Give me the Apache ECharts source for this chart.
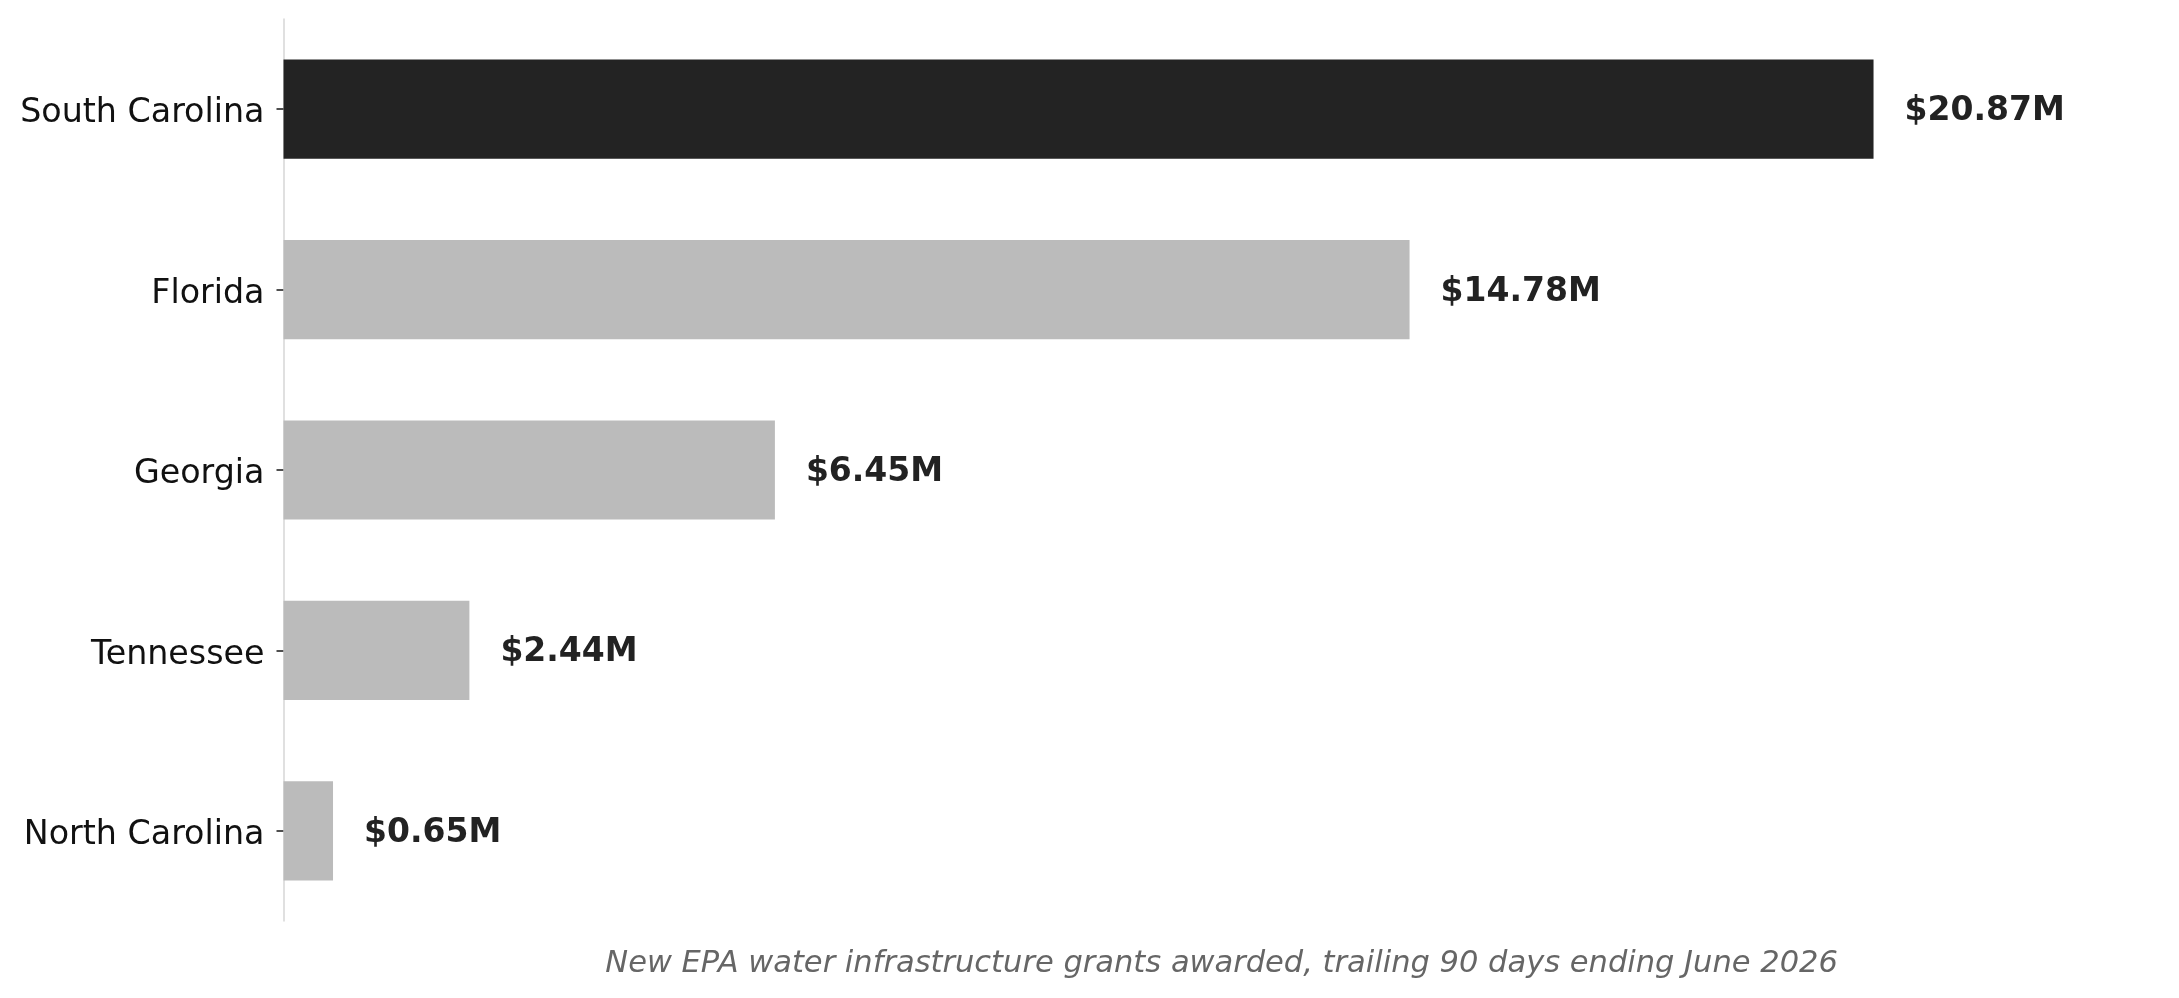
<!DOCTYPE html>
<html>
<head>
<meta charset="utf-8">
<script src="https://cdn.jsdelivr.net/npm/echarts@6/dist/echarts.min.js"></script>
<style>
  html, body { margin: 0; padding: 0; background: #fff; }
  #chart { width: 2179px; height: 998px; }
</style>
</head>
<body>
<div id="chart"></div>
<script>
const states = ['South Carolina', 'Florida', 'Georgia', 'Tennessee', 'North Carolina'];
const grants = [20.87, 14.78, 6.45, 2.44, 0.65];
const highlight = 'South Carolina';
const xMax = 24.63;
const subtitle = 'New EPA water infrastructure grants awarded, trailing 90 days ending June 2026';

const chart = echarts.init(document.getElementById('chart'));

const option = {
  animation: false,
  backgroundColor: '#fff',
  grid: { left: 283.5, right: 19, top: 19, bottom: 77, containLabel: false },
  xAxis: {
    type: 'value',
    min: 0,
    max: xMax,
    show: false,
    splitLine: { show: false }
  },
  yAxis: {
    type: 'category',
    data: states,
    inverse: true,
    axisLine: { show: true, lineStyle: { color: '#d6d6d6', width: 1.5 } },
    axisTick: { show: true, alignWithLabel: true, length: 7, lineStyle: { color: '#222', width: 1.6 } },
    axisLabel: {
      margin: 19,
      color: '#111',
      fontSize: 33.3,
      fontFamily: 'DejaVu Sans',
      verticalAlign: 'top',
      lineHeight: 9
    }
  },
  series: [
    {
      type: 'bar',
      barWidth: '55%',
      data: grants.map((v, i) => ({
        value: v,
        itemStyle: { color: states[i] === highlight ? '#232323' : '#bbbbbb' }
      })),
      label: {
        show: true,
        position: 'right',
        distance: 31,
        offset: [0, 2.5],
        formatter: (p) => `$${p.value.toFixed(2)}M`,
        color: '#222',
        fontSize: 33,
        fontWeight: 'bold',
        fontFamily: 'DejaVu Sans'
      }
    }
  ],
  graphic: [
    {
      type: 'text',
      x: 1221.6,
      y: 964,
      style: {
        text: subtitle,
        fill: '#666',
        font: 'italic 30.5px "DejaVu Sans"',
        textAlign: 'center',
        textVerticalAlign: 'middle'
      }
    }
  ]
};

chart.setOption(option);
</script>
</body>
</html>
